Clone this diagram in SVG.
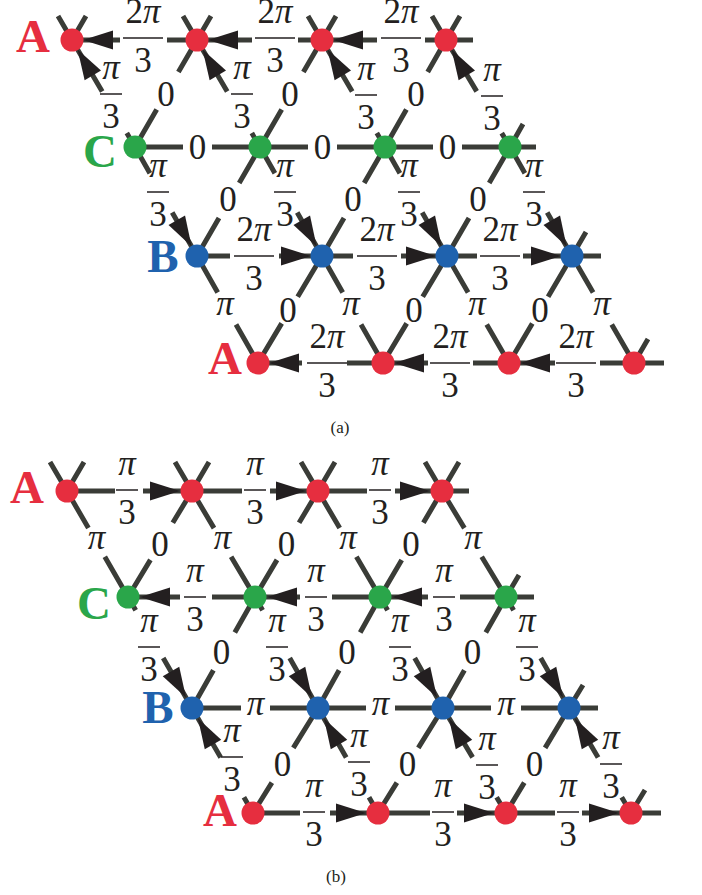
<svg xmlns="http://www.w3.org/2000/svg" xmlns:xlink="http://www.w3.org/1999/xlink" width="702" height="895" viewBox="0 0 702 895">
<style>
.e{stroke:#3a3c37;stroke-width:5;fill:none;stroke-linecap:butt}
.bar{stroke:#231f20;stroke-width:1.5}
.t{font-family:"Liberation Serif",serif;font-size:35px;fill:#231f20;text-anchor:middle}
.pi{font-style:italic}
.rl{font-family:"Liberation Serif",serif;font-weight:bold;font-size:47px;text-anchor:middle}
.cap{font-family:"Liberation Serif",serif;font-size:17px;fill:#231f20;text-anchor:middle}
.nA{fill:#e62e3f}.nB{fill:#1f62ae}.nC{fill:#2aa64a}
.ah{fill:#231f20}
</style>
<defs>
<path id="ah" d="M0,0 L-30,-9.5 L-30,9.5 Z"/>
<g id="f2">
<text class="t" y="-15">2<tspan class="pi">π</tspan></text>
<line class="bar" x1="-20" x2="20" y1="0" y2="0"/>
<text class="t" y="34">3</text>
</g>
<g id="f1">
<text class="t pi" y="-15">π</text>
<line class="bar" x1="-11" x2="11" y1="0" y2="0"/>
<text class="t" y="34">3</text>
</g>
</defs>

<g id="connectors-a" class="e">
<path d="M72 40H120M167 40H197"/>
<path d="M197 40H252M298 40H322"/>
<path d="M322 40H377M425 40H446"/>
<path d="M72 40L102.2 91.4M126.8 133.1L135 147"/>
<path d="M197 40L227.2 91.4M251.8 133.1L260 147"/>
<path d="M322 40L352.2 91.4M376.8 133.1L385 147"/>
<path d="M446 40L476.7 91.4M501.7 133.1L510 147"/>
<path d="M197 40L178.4 72.1M156.7 109.6L135 147"/>
<path d="M322 40L303.4 72.1M281.7 109.6L260 147"/>
<path d="M446 40L427.7 72.1M406.4 109.6L385 147"/>
<path d="M135 147H183M212 147H260"/>
<path d="M260 147H308M337 147H385"/>
<path d="M385 147H433M462 147H510"/>
<path d="M135 147L149.9 173.2M172.2 212.4L197 256"/>
<path d="M260 147L274.9 173.2M297.2 212.4L322 256"/>
<path d="M385 147L399.9 173.2M422.2 212.4L447 256"/>
<path d="M510 147L524.9 173.2M547.2 212.4L572 256"/>
<path d="M260 147L239.2 183M219 217.9L197 256"/>
<path d="M385 147L364.2 183M344 217.9L322 256"/>
<path d="M510 147L489.2 183M469 217.9L447 256"/>
<path d="M197 256H230M279 256H322"/>
<path d="M322 256H353M401 256H447"/>
<path d="M447 256H477M523 256H572"/>
<path d="M197 256L217.7 292.4M236 324.5L258 363"/>
<path d="M322 256L342.7 292.4M361 324.5L383 363"/>
<path d="M447 256L468.1 292.4M486.7 324.5L509 363"/>
<path d="M572 256L593.1 292.4M611.7 324.5L634 363"/>
<path d="M322 256L297.7 296.7M281.7 323.4L258 363"/>
<path d="M447 256L422.7 296.7M406.7 323.4L383 363"/>
<path d="M572 256L548.1 296.7M532.3 323.4L509 363"/>
<path d="M258 363H302M347 363H383"/>
<path d="M383 363H428M473 363H509"/>
<path d="M509 363H555M600 363H634"/>
<path d="M72 40L58 16M72 40L86 16M197 40L183 16M197 40L211 16M322 40L308 16M322 40L336 16M446 40L432 16M446 40L460 16M446 40H473M510 147L523 124M510 147H536M572 256L586 232M572 256H601M634 363L648 339M634 363H664"/>
</g>
<g id="arrows-a" class="ah">
<use xlink:href="#ah" transform="translate(83,40) rotate(180)"/>
<use xlink:href="#ah" transform="translate(208,40) rotate(180)"/>
<use xlink:href="#ah" transform="translate(333,40) rotate(180)"/>
<use xlink:href="#ah" transform="translate(77.6,49.5) rotate(-120.5)"/>
<use xlink:href="#ah" transform="translate(202.6,49.5) rotate(-120.5)"/>
<use xlink:href="#ah" transform="translate(327.6,49.5) rotate(-120.5)"/>
<use xlink:href="#ah" transform="translate(451.6,49.5) rotate(-120.5)"/>
<use xlink:href="#ah" transform="translate(191.6,246.4) rotate(60.4)"/>
<use xlink:href="#ah" transform="translate(316.6,246.4) rotate(60.4)"/>
<use xlink:href="#ah" transform="translate(441.6,246.4) rotate(60.4)"/>
<use xlink:href="#ah" transform="translate(566.6,246.4) rotate(60.4)"/>
<use xlink:href="#ah" transform="translate(311,256)"/>
<use xlink:href="#ah" transform="translate(436,256)"/>
<use xlink:href="#ah" transform="translate(561,256)"/>
<use xlink:href="#ah" transform="translate(269,363) rotate(180)"/>
<use xlink:href="#ah" transform="translate(394,363) rotate(180)"/>
<use xlink:href="#ah" transform="translate(520,363) rotate(180)"/>
</g>
<g id="edge-labels-a">
<use xlink:href="#f2" transform="translate(143,38)"/>
<use xlink:href="#f2" transform="translate(275,38)"/>
<use xlink:href="#f2" transform="translate(401,38)"/>
<use xlink:href="#f1" transform="translate(111,94)"/>
<use xlink:href="#f1" transform="translate(242,94)"/>
<use xlink:href="#f1" transform="translate(366,95)"/>
<use xlink:href="#f1" transform="translate(492,96)"/>
<text class="t" x="166" y="106">0</text>
<text class="t" x="290" y="106">0</text>
<text class="t" x="416" y="106">0</text>
<text class="t" x="197.5" y="159">0</text>
<text class="t" x="322.5" y="159">0</text>
<text class="t" x="447.5" y="159">0</text>
<use xlink:href="#f1" transform="translate(158,192)"/>
<use xlink:href="#f1" transform="translate(285,192)"/>
<use xlink:href="#f1" transform="translate(409,192)"/>
<use xlink:href="#f1" transform="translate(534,192)"/>
<text class="t" x="228" y="211">0</text>
<text class="t" x="353" y="211">0</text>
<text class="t" x="478" y="211">0</text>
<use xlink:href="#f2" transform="translate(254,256)"/>
<use xlink:href="#f2" transform="translate(377,256)"/>
<use xlink:href="#f2" transform="translate(500,256)"/>
<text class="t pi" x="225" y="315">π</text>
<text class="t pi" x="351" y="315">π</text>
<text class="t pi" x="477" y="315">π</text>
<text class="t pi" x="602" y="315">π</text>
<text class="t" x="288" y="322">0</text>
<text class="t" x="414" y="322">0</text>
<text class="t" x="540" y="322">0</text>
<use xlink:href="#f2" transform="translate(327,363)"/>
<use xlink:href="#f2" transform="translate(450,363)"/>
<use xlink:href="#f2" transform="translate(576,363)"/>
</g>
<g id="nodes-a">
<g id="a-A0"><circle class="nA" cx="72" cy="40" r="11.5"/></g>
<g id="a-A1"><circle class="nA" cx="197" cy="40" r="11.5"/></g>
<g id="a-A2"><circle class="nA" cx="322" cy="40" r="11.5"/></g>
<g id="a-A3"><circle class="nA" cx="446" cy="40" r="11.5"/></g>
<g id="a-C0"><circle class="nC" cx="135" cy="147" r="11.5"/></g>
<g id="a-C1"><circle class="nC" cx="260" cy="147" r="11.5"/></g>
<g id="a-C2"><circle class="nC" cx="385" cy="147" r="11.5"/></g>
<g id="a-C3"><circle class="nC" cx="510" cy="147" r="11.5"/></g>
<g id="a-B0"><circle class="nB" cx="197" cy="256" r="11.5"/></g>
<g id="a-B1"><circle class="nB" cx="322" cy="256" r="11.5"/></g>
<g id="a-B2"><circle class="nB" cx="447" cy="256" r="11.5"/></g>
<g id="a-B3"><circle class="nB" cx="572" cy="256" r="11.5"/></g>
<g id="a-D0"><circle class="nA" cx="258" cy="363" r="11.5"/></g>
<g id="a-D1"><circle class="nA" cx="383" cy="363" r="11.5"/></g>
<g id="a-D2"><circle class="nA" cx="509" cy="363" r="11.5"/></g>
<g id="a-D3"><circle class="nA" cx="634" cy="363" r="11.5"/></g>
</g>
<g id="row-labels-a" class="rl">
<text x="33" y="52" fill="#e62e3f">A</text>
<text x="100" y="167" fill="#2aa64a">C</text>
<text x="163" y="272" fill="#1f62ae">B</text>
<text x="225" y="374" fill="#e62e3f">A</text>
</g>
<text class="cap" x="340" y="433">(a)</text>

<g id="connectors-b" class="e">
<path d="M67 491H115M143 491H192"/>
<path d="M192 491H242M270 491H318"/>
<path d="M318 491H367M395 491H442"/>
<path d="M67 491L88.4 528.1M104.8 556.7L128 597"/>
<path d="M192 491L214 528.1M231.1 556.7L255 597"/>
<path d="M318 491L339.7 528.1M356.4 556.7L380 597"/>
<path d="M442 491L464.4 528.1M481.7 556.7L506 597"/>
<path d="M192 491L172.8 522.8M150.4 559.9L128 597"/>
<path d="M318 491L299.1 522.8M277 559.9L255 597"/>
<path d="M442 491L423.4 522.8M401.7 559.9L380 597"/>
<path d="M128 597H180M212 597H255"/>
<path d="M255 597H300M332 597H380"/>
<path d="M380 597H428M460 597H506"/>
<path d="M128 597L135.7 610.3M163.2 658L192 708"/>
<path d="M255 597L262.6 610.3M289.7 658L318 708"/>
<path d="M380 597L387.6 610.3M414.7 658L443 708"/>
<path d="M506 597L513.6 610.3M540.7 658L569 708"/>
<path d="M255 597L234.8 632.5M213.4 670.3L192 708"/>
<path d="M380 597L360.2 632.5M339.1 670.3L318 708"/>
<path d="M506 597L485.8 632.5M464.4 670.3L443 708"/>
<path d="M192 708H241M270 708H318"/>
<path d="M318 708H366M395 708H443"/>
<path d="M443 708H491M521 708H569"/>
<path d="M192 708L220.7 757.4M243.9 797.3L253 813"/>
<path d="M318 708L346.2 757.4M369 797.3L378 813"/>
<path d="M443 708L472.6 757.4M496.6 797.3L506 813"/>
<path d="M569 708L598.1 757.4M621.7 797.3L631 813"/>
<path d="M318 708L293.3 747.9M271.9 782.6L253 813"/>
<path d="M443 708L418.3 747.9M396.9 782.6L378 813"/>
<path d="M569 708L545.1 747.9M524.3 782.6L506 813"/>
<path d="M253 813H300M330 813H378"/>
<path d="M378 813H430M457 813H506"/>
<path d="M506 813H555M582 813H631"/>
<path d="M67 491L50 462M67 491L84 462M192 491L175 462M192 491L209 462M318 491L301 462M318 491L335 462M442 491L425 462M442 491L459 462M442 491H469M506 597L519 575M506 597H534M569 708L583 685M569 708H598M631 813L645 790M631 813H661"/>
</g>
<g id="arrows-b" class="ah">
<use xlink:href="#ah" transform="translate(180,491)"/>
<use xlink:href="#ah" transform="translate(306,491)"/>
<use xlink:href="#ah" transform="translate(430,491)"/>
<use xlink:href="#ah" transform="translate(140,597) rotate(180)"/>
<use xlink:href="#ah" transform="translate(267,597) rotate(180)"/>
<use xlink:href="#ah" transform="translate(392,597) rotate(180)"/>
<use xlink:href="#ah" transform="translate(186,697.6) rotate(60)"/>
<use xlink:href="#ah" transform="translate(312,697.6) rotate(60)"/>
<use xlink:href="#ah" transform="translate(437,697.6) rotate(60)"/>
<use xlink:href="#ah" transform="translate(563,697.6) rotate(60)"/>
<use xlink:href="#ah" transform="translate(198,718.4) rotate(-120)"/>
<use xlink:href="#ah" transform="translate(324,718.4) rotate(-120)"/>
<use xlink:href="#ah" transform="translate(449,718.4) rotate(-120)"/>
<use xlink:href="#ah" transform="translate(575,718.4) rotate(-120)"/>
<use xlink:href="#ah" transform="translate(366,813)"/>
<use xlink:href="#ah" transform="translate(494,813)"/>
<use xlink:href="#ah" transform="translate(619,813)"/>
</g>
<g id="edge-labels-b">
<use xlink:href="#f1" transform="translate(127,490)"/>
<use xlink:href="#f1" transform="translate(255,490)"/>
<use xlink:href="#f1" transform="translate(380,490)"/>
<text class="t pi" x="96.5" y="549">π</text>
<text class="t pi" x="222.5" y="549">π</text>
<text class="t pi" x="348" y="549">π</text>
<text class="t pi" x="473" y="549">π</text>
<text class="t" x="160" y="556">0</text>
<text class="t" x="286.5" y="556">0</text>
<text class="t" x="411" y="556">0</text>
<use xlink:href="#f1" transform="translate(195,597)"/>
<use xlink:href="#f1" transform="translate(316,597)"/>
<use xlink:href="#f1" transform="translate(444,597)"/>
<use xlink:href="#f1" transform="translate(149,647)"/>
<use xlink:href="#f1" transform="translate(277,647)"/>
<use xlink:href="#f1" transform="translate(400,647)"/>
<use xlink:href="#f1" transform="translate(527,647)"/>
<text class="t" x="221.5" y="664">0</text>
<text class="t" x="347" y="664">0</text>
<text class="t" x="472.5" y="664">0</text>
<text class="t pi" x="255.5" y="715">π</text>
<text class="t pi" x="380.5" y="715">π</text>
<text class="t pi" x="506" y="715">π</text>
<use xlink:href="#f1" transform="translate(232,757)"/>
<use xlink:href="#f1" transform="translate(359,762)"/>
<use xlink:href="#f1" transform="translate(487,765)"/>
<use xlink:href="#f1" transform="translate(611,764)"/>
<text class="t" x="282.5" y="776">0</text>
<text class="t" x="407.5" y="776">0</text>
<text class="t" x="534.5" y="776">0</text>
<use xlink:href="#f1" transform="translate(314,812)"/>
<use xlink:href="#f1" transform="translate(443,812)"/>
<use xlink:href="#f1" transform="translate(568,812)"/>
</g>
<g id="nodes-b">
<g id="b-A0"><circle class="nA" cx="67" cy="491" r="11.5"/></g>
<g id="b-A1"><circle class="nA" cx="192" cy="491" r="11.5"/></g>
<g id="b-A2"><circle class="nA" cx="318" cy="491" r="11.5"/></g>
<g id="b-A3"><circle class="nA" cx="442" cy="491" r="11.5"/></g>
<g id="b-C0"><circle class="nC" cx="128" cy="597" r="11.5"/></g>
<g id="b-C1"><circle class="nC" cx="255" cy="597" r="11.5"/></g>
<g id="b-C2"><circle class="nC" cx="380" cy="597" r="11.5"/></g>
<g id="b-C3"><circle class="nC" cx="506" cy="597" r="11.5"/></g>
<g id="b-B0"><circle class="nB" cx="192" cy="708" r="11.5"/></g>
<g id="b-B1"><circle class="nB" cx="318" cy="708" r="11.5"/></g>
<g id="b-B2"><circle class="nB" cx="443" cy="708" r="11.5"/></g>
<g id="b-B3"><circle class="nB" cx="569" cy="708" r="11.5"/></g>
<g id="b-D0"><circle class="nA" cx="253" cy="813" r="11.5"/></g>
<g id="b-D1"><circle class="nA" cx="378" cy="813" r="11.5"/></g>
<g id="b-D2"><circle class="nA" cx="506" cy="813" r="11.5"/></g>
<g id="b-D3"><circle class="nA" cx="631" cy="813" r="11.5"/></g>
</g>
<g id="row-labels-b" class="rl">
<text x="27" y="503" fill="#e62e3f">A</text>
<text x="94" y="619" fill="#2aa64a">C</text>
<text x="158" y="723" fill="#1f62ae">B</text>
<text x="220" y="826" fill="#e62e3f">A</text>
</g>
<text class="cap" x="336" y="882">(b)</text>
</svg>
